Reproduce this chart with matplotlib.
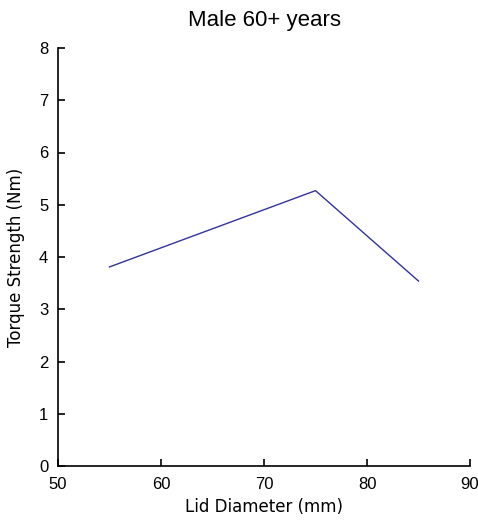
import matplotlib
matplotlib.use('Agg')
import matplotlib.pyplot as plt

lid_diameter = [55, 75, 85]
torque = [3.81, 5.27, 3.54]

x_ticks = [50, 60, 70, 80, 90]
y_ticks = [0, 1, 2, 3, 4, 5, 6, 7, 8]


def main():
    fig = plt.figure(figsize=(4.78, 5.21), dpi=100)
    ax = fig.add_axes([58 / 478, 55 / 521, 412 / 478, 418 / 521])

    ax.plot(lid_diameter, torque, color='#33339a', linewidth=1.0)

    ax.set_xlim(50, 90)
    ax.set_ylim(0, 8)
    ax.set_xticks(x_ticks)
    ax.set_yticks(y_ticks)

    ax.spines['top'].set_visible(False)
    ax.spines['right'].set_visible(False)
    ax.spines['left'].set_linewidth(1.2)
    ax.spines['bottom'].set_linewidth(1.2)
    ax.tick_params(direction='in', length=5, width=1.2, labelsize=12)
    ax.tick_params(axis='x', pad=8)
    ax.tick_params(axis='y', pad=7)
    for lbl in ax.get_xticklabels() + ax.get_yticklabels():
        lbl.set_fontfamily('Liberation Sans')

    ax.set_xlabel('Lid Diameter (mm)', fontsize=12, fontfamily='DejaVu Sans', labelpad=4)
    ax.set_ylabel('Torque Strength (Nm)', fontsize=12, fontfamily='DejaVu Sans', labelpad=10)
    ax.set_title('Male 60+ years', fontsize=16, fontfamily='Liberation Sans', pad=16)

    fig.savefig('out.png', dpi=100)


main()
